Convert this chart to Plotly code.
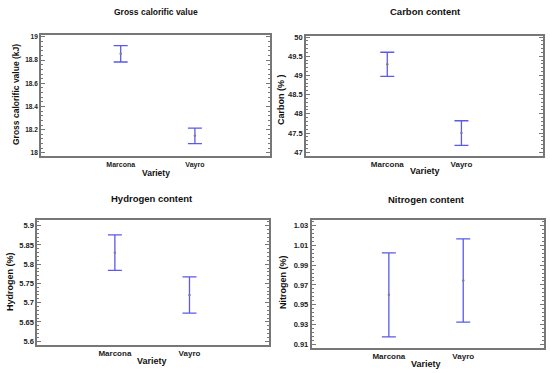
import plotly.graph_objects as go

varieties = ["Marcona", "Vayro"]
gcv_mean = [18.855, 18.147]
gcv_err = [0.071, 0.067]
carbon_mean = [49.29, 47.50]
carbon_err = [0.315, 0.32]
hydrogen_mean = [5.83, 5.72]
hydrogen_err = [0.046, 0.047]
nitrogen_mean = [0.960, 0.9745]
nitrogen_err = [0.0425, 0.042]

panels = [
    dict(title="Gross calorific value", ytitle="Gross calorific value (kJ)", mean=gcv_mean, err=gcv_err,
         xdom=[41/550, 270/550], ydom=[(373-155)/373, (373-32)/373], yrange=[17.97, 19.02],
         tick0=18, dtick=0.2, minor=0.04, xrange=[-1.074, 2.012], fs=6.5,
         tpos=(156, 9), ypos=(16, 93), vpos=(156, 172), tfs=8.5, afs=8.5),
    dict(title="Carbon content", ytitle="Carbon (% )", mean=carbon_mean, err=carbon_err,
         xdom=[306/550, 543/550], ydom=[(373-154.3)/373, (373-33.3)/373], yrange=[46.91, 50.03],
         tick0=47, dtick=0.5, minor=0.1, xrange=[-1.096, 2.10], fs=7.5,
         tpos=(425, 9), ypos=(281, 98), vpos=(425, 170), tfs=9.5, afs=9),
    dict(title="Hydrogen content", ytitle="Hydrogen (%)", mean=hydrogen_mean, err=hydrogen_err,
         xdom=[37.3/550, 269.3/550], ydom=[(373-345.3)/373, (373-219.3)/373], yrange=[5.591, 5.915],
         tick0=5.6, dtick=0.05, minor=0.01, xrange=[-1.04, 2.07], fs=7.5,
         tpos=(152, 198), ypos=(10, 282), vpos=(152, 362), tfs=9.5, afs=9),
    dict(title="Nitrogen content", ytitle="Nitrogen (%)", mean=nitrogen_mean, err=nitrogen_err,
         xdom=[311.7/550, 544.3/550], ydom=[(373-348.7)/373, (373-219.3)/373], yrange=[0.9063, 1.0357],
         tick0=0.91, dtick=0.02, minor=0.004, xrange=[-1.0375, 2.09], fs=7.5,
         tpos=(426, 198.5), ypos=(283, 282), vpos=(426, 364.5), tfs=9.5, afs=9),
]

fig = go.Figure()
font_fam = "Liberation Sans Narrow, Arial Narrow, Liberation Sans, Arial, sans-serif"
annotations = []
for i, p in enumerate(panels):
    n = "" if i == 0 else str(i + 1)
    fig.add_trace(go.Scatter(
        x=list(range(len(varieties))), y=p["mean"], mode="markers",
        marker=dict(size=2.5, color="#808080"),
        error_y=dict(type="data", array=p["err"], visible=True, color="#5a5ae6", thickness=1.3, width=7),
        xaxis="x" + n, yaxis="y" + n, showlegend=False, hoverinfo="skip"))
    ax = dict(domain=p["xdom"], anchor="y" + n, range=p["xrange"], tickvals=[0, 1], ticktext=varieties,
              showline=True, mirror=True, linecolor="#777777", linewidth=1.8, ticks="",
              showgrid=False, zeroline=False,
              tickfont=dict(family=font_fam, size=p["fs"] + 0.5, color="#222222", weight="bold"))
    ay = dict(domain=p["ydom"], anchor="x" + n, range=p["yrange"], tick0=p["tick0"], dtick=p["dtick"],
              showline=True, mirror="allticks", linecolor="#777777", linewidth=1.8,
              ticks="inside", ticklen=4, tickcolor="#777777", tickwidth=1,
              minor=dict(dtick=p["minor"], tick0=p["tick0"], ticks="inside", ticklen=2,
                         tickcolor="#777777", tickwidth=1),
              showgrid=False, zeroline=False,
              tickfont=dict(family=font_fam, size=p["fs"], color="#222222", weight="bold"))
    fig.update_layout(**{"xaxis" + n: ax, "yaxis" + n: ay})
    annotations.append(dict(text=p["title"], x=p["tpos"][0] / 550, y=1 - p["tpos"][1] / 373,
                            xref="paper", yref="paper", showarrow=False, xanchor="center", yanchor="middle",
                            font=dict(family=font_fam, size=p["tfs"], color="#111111", weight="bold")))
    annotations.append(dict(text=p["ytitle"], x=p["ypos"][0] / 550, y=1 - p["ypos"][1] / 373, textangle=-90,
                            xref="paper", yref="paper", showarrow=False, xanchor="center", yanchor="middle",
                            font=dict(family=font_fam, size=p["afs"], color="#111111", weight="bold")))
    annotations.append(dict(text="Variety", x=p["vpos"][0] / 550, y=1 - p["vpos"][1] / 373,
                            xref="paper", yref="paper", showarrow=False, xanchor="center", yanchor="middle",
                            font=dict(family=font_fam, size=p["afs"], color="#111111", weight="bold")))

fig.update_layout(width=550, height=373, margin=dict(l=0, r=0, t=0, b=0),
                  paper_bgcolor="white", plot_bgcolor="white", annotations=annotations)
fig.write_html("out.html", config={"displayModeBar": False},
               post_script="document.body.style.margin='0px';")
